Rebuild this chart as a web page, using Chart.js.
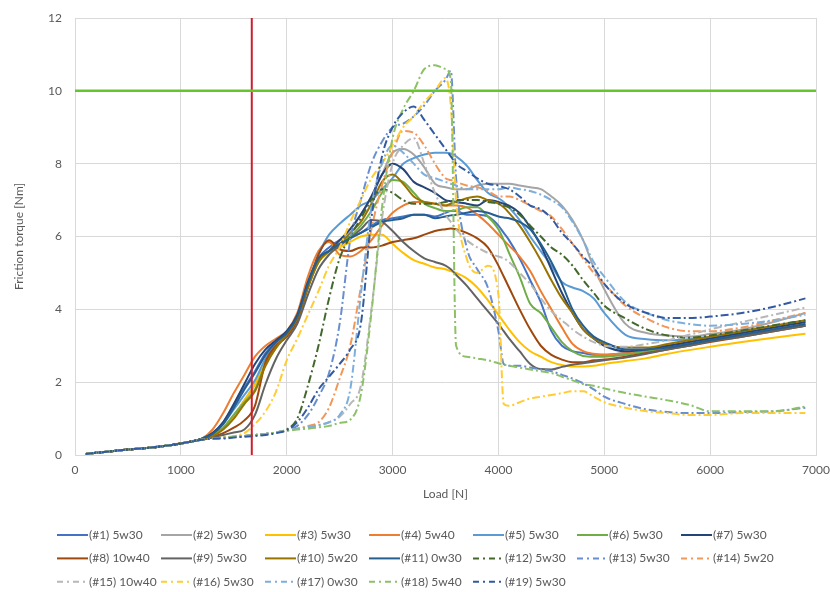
<!DOCTYPE html>
<html><head><meta charset="utf-8">
<script src="https://cdn.jsdelivr.net/npm/chart.js@4/dist/chart.umd.min.js"></script>
<style>html,body{margin:0;padding:0;background:#fff;}#wrap{width:830px;height:592px;position:relative;}</style>
</head><body><div id="wrap"><canvas id="c" width="830" height="592"></canvas></div>
<script>
// Load grid [N]
const load = [100,300,500,700,900,1100,1200,1300,1400,1500,1600,1700,1800,1900,2000,2100,2200,2300,2400,2500,2600,2700,2800,2900,3000,3100,3200,3300,3400,3500,3550,3600,3700,3800,3900,4000,4050,4100,4200,4300,4400,4500,4600,4700,4800,4900,5000,5200,5400,5600,5800,6000,6300,6600,6900];
const base = [0.03,0.09,0.15,0.2,0.27,0.37];
// Friction torque [Nm] per series
const s1  = base.concat([0.45,0.6,0.9,1.35,1.85,2.3,2.8,3.1,3.35, 3.8,4.7,5.4,5.7,5.9,6.0,6.1,6.3,6.45, 6.5,6.55,6.6,6.6,6.55,6.65,6.7,6.7,6.6,6.6,6.55, 6.3,6.1,5.9,5.4,4.8,4.2,3.4,3.0,2.85,2.8,2.75, 2.75, 2.8,2.85,2.95,3.05,3.15,3.3,3.45,3.55]);
const s2  = base.concat([0.45,0.55,0.75,1.1,1.5,1.95,2.6,3.0,3.3, 3.7,4.6,5.3,5.6,5.9,6.2,6.6,7.1,7.7, 8.3,8.4,8.25,7.9,7.45,7.35,7.32,7.3,7.3,7.4,7.45, 7.45,7.45,7.45,7.4,7.35,7.3,7.1,6.85,6.45,5.9,5.15, 4.55, 3.6,3.35,3.28,3.25,3.32,3.45,3.65,3.9]);
const s3  = base.concat([0.45,0.55,0.75,1.05,1.5,1.95,2.55,2.95,3.3, 3.75,4.6,5.3,5.55,5.7,5.85,6.0,6.05,6.05, 5.8,5.55,5.35,5.25,5.15,5.1,5.05,5.0,4.85,4.6,4.25, 3.85,3.65,3.45,3.1,2.85,2.7,2.55,2.47,2.43,2.43,2.45, 2.5, 2.58,2.66,2.78,2.88,2.97,3.1,3.22,3.33]);
const s4  = base.concat([0.45,0.7,1.15,1.7,2.2,2.7,3.0,3.2,3.4, 3.9,4.9,5.6,5.85,5.5,5.45,5.6,5.9,6.3, 6.65,6.85,6.95,6.95,6.9,6.85,6.85,6.85,6.8,6.6,6.35, 6.05,5.9,5.75,5.45,5.05,4.5,4.0,3.5,3.05,2.85,2.78, 2.75, 2.8,2.9,3.0,3.1,3.2,3.35,3.5,3.65]);
const s5  = base.concat([0.45,0.6,0.85,1.25,1.65,2.05,2.65,3.05,3.35, 3.8,4.7,5.5,6.05,6.35,6.6,6.85,7.0,7.3, 7.6,8.0,8.15,8.25,8.3,8.3,8.28,8.2,7.95,7.55,7.2, 7.05,6.95,6.8,6.45,6.0,5.6,5.2,4.75,4.6,4.5,4.3, 3.9, 3.3,3.18,3.15,3.18,3.25,3.35,3.45,3.55]);
const s6  = base.concat([0.45,0.55,0.75,1.1,1.45,1.8,2.5,2.95,3.3, 3.75,4.6,5.3,5.6,5.8,6.0,6.3,6.7,7.2, 7.55,7.5,7.2,6.9,6.78,6.7,6.7,6.72,6.8,6.8,6.55, 6.2,5.9,5.55,4.9,4.15,3.9,3.5,3.1,2.85,2.72,2.7, 2.7, 2.75,2.85,2.95,3.05,3.15,3.3,3.45,3.6]);
const s7  = base.concat([0.45,0.6,0.9,1.4,1.95,2.5,2.9,3.15,3.4, 3.85,4.75,5.4,5.6,5.9,6.2,6.6,7.1,7.7, 8.0,7.85,7.5,7.35,7.2,7.0,6.97,6.95,6.9,6.85,7.0, 6.95,6.9,6.85,6.65,6.25,5.75,5.1,4.45,3.9,3.45,3.2, 3.0, 2.85,2.9,3.0,3.1,3.2,3.35,3.5,3.65]);
const s8  = base.concat([0.43,0.5,0.6,0.75,0.95,1.35,2.55,3.0,3.25, 3.7,4.6,5.5,5.9,5.65,5.6,5.7,5.7,5.75, 5.85,5.9,5.95,6.05,6.15,6.2,6.22,6.2,6.1,5.95,5.7, 5.2,4.9,4.6,4.0,3.45,3.0,2.75,2.62,2.55,2.55,2.6, 2.62, 2.7,2.8,2.9,3.0,3.1,3.25,3.4,3.55]);
const s9  = base.concat([0.42,0.48,0.55,0.62,0.7,1.1,1.95,2.65,3.15, 3.6,4.4,5.1,5.5,5.75,5.95,6.2,6.45,6.4, 6.15,5.85,5.6,5.4,5.3,5.2,5.1,4.95,4.65,4.3,3.95, 3.6,3.4,3.2,2.85,2.5,2.36,2.35,2.42,2.48,2.52,2.56, 2.6, 2.68,2.78,2.9,3.0,3.12,3.25,3.4,3.55]);
const s10 = base.concat([0.43,0.52,0.7,1.0,1.4,1.75,2.45,2.95,3.3, 3.75,4.6,5.3,5.6,5.8,6.1,6.4,6.9,7.5, 7.7,7.45,7.1,6.95,6.9,6.85,6.9,6.95,7.05,7.1,7.0, 6.9,6.8,6.65,6.3,5.85,5.35,4.8,4.3,3.9,3.45,3.2, 3.05, 2.95,2.95,3.05,3.15,3.25,3.4,3.55,3.7]);
const s11 = base.concat([0.45,0.58,0.85,1.3,1.8,2.25,2.75,3.1,3.35, 3.8,4.7,5.4,5.6,5.8,5.95,6.1,6.25,6.4, 6.45,6.5,6.6,6.6,6.5,6.55,6.58,6.6,6.65,6.7,6.65, 6.55,6.52,6.5,6.4,6.2,5.8,5.3,4.7,4.0,3.55,3.25, 3.1, 2.9,2.9,2.95,3.05,3.15,3.3,3.45,3.6]);
const s12 = base.concat([0.42,0.45,0.48,0.5,0.52,0.55,0.58,0.62,0.7, 1.0,1.9,3.0,4.3,5.4,6.0,6.5,7.0,7.3, 7.2,7.0,6.9,6.9,6.9,6.95,6.97,7.0,7.0,7.0,6.95, 6.9,6.85,6.8,6.6,6.3,6.0,5.7,5.5,5.2,4.8,4.45, 4.1, 3.75,3.45,3.28,3.22,3.28,3.42,3.56,3.7]);
const s13 = base.concat([0.42,0.45,0.47,0.5,0.52,0.55,0.58,0.62,0.68, 0.8,1.1,1.6,2.25,3.6,5.9,7.0,8.0,8.6, 9.0,9.1,9.3,9.6,10.0,10.3,10.55,7.6,5.7,5.1,4.6, 3.4,2.5,2.45,2.45,2.4,2.35,2.3,2.2,2.1,1.97,1.8, 1.6, 1.4,1.25,1.18,1.15,1.15,1.18,1.2,1.3]);
const s14 = base.concat([0.42,0.45,0.47,0.5,0.52,0.55,0.58,0.62,0.68, 0.72,0.8,0.9,1.3,2.1,3.0,4.6,6.2,7.4, 8.3,8.9,8.85,8.5,8.0,7.6,7.55,7.5,7.4,7.35,7.25, 7.1,7.1,7.1,7.0,6.85,6.7,6.55,6.2,5.8,5.4,5.0, 4.7, 4.1,3.75,3.5,3.4,3.4,3.5,3.7,3.9]);
const s15 = base.concat([0.42,0.45,0.47,0.5,0.52,0.55,0.58,0.62,0.68, 0.72,0.76,0.82,0.9,1.05,1.4,1.9,4.0,6.5, 8.0,8.5,8.7,8.0,7.2,6.6,6.4,6.2,5.9,5.7,5.55, 5.45,5.4,5.3,5.0,4.7,4.3,3.95,3.7,3.45,3.25,3.1, 3.0, 2.97,3.05,3.15,3.3,3.45,3.65,3.85,4.05]);
const s16 = base.concat([0.42,0.45,0.48,0.52,0.6,0.85,1.2,1.75,2.6, 3.2,3.85,4.5,5.2,5.7,6.4,7.0,7.6,8.0, 8.5,9.0,9.3,9.7,10.0,10.35,9.6,7.0,5.4,5.0,5.2, 4.4,1.4,1.35,1.45,1.55,1.6,1.65,1.7,1.75,1.75,1.6, 1.45, 1.3,1.2,1.15,1.1,1.1,1.15,1.15,1.15]);
const s17 = base.concat([0.42,0.45,0.47,0.5,0.52,0.55,0.58,0.62,0.68, 0.72,0.76,0.82,0.9,1.1,1.8,4.4,6.8,8.0, 8.5,8.3,8.0,7.7,7.6,7.5,7.45,7.4,7.3,7.3,7.3, 7.3,7.32,7.35,7.3,7.25,7.15,7.0,6.8,6.4,5.9,5.3, 4.9, 4.2,3.9,3.7,3.6,3.55,3.6,3.7,3.85]);
const s18 = base.concat([0.42,0.45,0.47,0.5,0.52,0.55,0.58,0.62,0.66, 0.7,0.72,0.76,0.8,0.88,0.97,1.65,3.9,6.8, 8.7,9.5,10.0,10.6,10.7,10.6,10.3,3.0,2.7,2.65,2.6, 2.52,2.48,2.45,2.4,2.35,2.3,2.25,2.15,2.05,1.95,1.9, 1.83, 1.7,1.6,1.5,1.38,1.2,1.2,1.2,1.33]);
const s19 = base.concat([0.42,0.45,0.45,0.48,0.5,0.52,0.55,0.6,0.68, 0.9,1.3,1.8,2.15,2.5,2.9,3.6,6.5,8.2, 9.0,9.4,9.57,9.2,8.8,8.4,8.2,8.0,7.8,7.6,7.45, 7.4,7.35,7.3,7.1,6.85,6.75,6.5,6.1,5.8,5.45,5.15, 4.7, 4.15,3.9,3.76,3.76,3.8,3.9,4.07,4.3]);

const seriesValues = [s1,s2,s3,s4,s5,s6,s7,s8,s9,s10,s11,s12,s13,s14,s15,s16,s17,s18,s19];
const seriesNames = ['(#1) 5w30','(#2) 5w30','(#3) 5w30','(#4) 5w40','(#5) 5w30','(#6) 5w30','(#7) 5w30',
  '(#8) 10w40','(#9) 5w30','(#10) 5w20','(#11) 0w30','(#12) 5w30','(#13) 5w30','(#14) 5w20',
  '(#15) 10w40','(#16) 5w30','(#17) 0w30','(#18) 5w40','(#19) 5w30'];
const seriesColors = ['#4472C4','#A5A5A5','#FFC000','#ED7D31','#5B9BD5','#70AD47','#264478',
  '#9E480E','#636363','#997300','#255E91','#43682B','#698ED0','#F1975A',
  '#B7B7B7','#FFCD33','#7CAFDD','#8CC168','#335AA1'];
const seriesDashed = [false,false,false,false,false,false,false,false,false,false,false,true,true,true,true,true,true,true,true];
const limitLoad = 1670;   // vertical red line [N]
const limitTorque = 10;   // horizontal green line [Nm]
const xRange = [0, 7000], yRange = [0, 12];

const FONT = 'Lato, "Open Sans", "Liberation Sans", sans-serif';
const TXT = '#595959';
const DASH = [8,3,2,3];

const datasets = seriesValues.map((vals, i) => ({
  label: seriesNames[i],
  data: load.map((x, j) => ({x: x, y: vals[j]})),
  borderColor: seriesColors[i],
  backgroundColor: seriesColors[i],
  borderWidth: 2,
  borderDash: seriesDashed[i] ? DASH : [],
  pointRadius: 0,
  fill: false,
  cubicInterpolationMode: 'monotone',
  order: 100 - i,
  inLegend: true
}));
datasets.push({
  label: 'limitLoad', data: [{x: limitLoad, y: yRange[0]}, {x: limitLoad, y: yRange[1]}],
  borderColor: '#CC1F2D', borderWidth: 2, pointRadius: 0, fill: false, order: 1, inLegend: false
});
datasets.push({
  label: 'limitTorque', data: [{x: xRange[0], y: limitTorque}, {x: xRange[1], y: limitTorque}],
  borderColor: '#66C52B', borderWidth: 2.5, pointRadius: 0, fill: false, order: 0, inLegend: false
});

const legendPlugin = {
  id: 'gridLegend',
  afterDraw(chart) {
    const ctx = chart.ctx;
    ctx.save();
    ctx.font = '12px ' + FONT;
    ctx.textBaseline = 'middle';
    ctx.textAlign = 'left';
    let k = 0;
    chart.data.datasets.forEach(ds => {
      if (!ds.inLegend) return;
      const row = Math.floor(k / 7), col = k % 7;
      const x0 = 57 + col * 104, y = 535 + row * 23.4;
      ctx.beginPath();
      ctx.strokeStyle = ds.borderColor;
      ctx.lineWidth = 2;
      ctx.setLineDash(ds.borderDash && ds.borderDash.length ? [6,4,2,4] : []);
      ctx.moveTo(x0, y); ctx.lineTo(x0 + 31, y);
      ctx.stroke();
      ctx.setLineDash([]);
      ctx.fillStyle = TXT;
      ctx.fillText(ds.label, x0 + 32, y);
      k++;
    });
    ctx.restore();
  }
};

new Chart(document.getElementById('c'), {
  type: 'line',
  data: { datasets: datasets },
  options: {
    responsive: false,
    animation: false,
    devicePixelRatio: 1,
    layout: { padding: { left: 0, right: 14, top: 18, bottom: 87 } },
    plugins: { legend: { display: false }, tooltip: { enabled: false } },
    scales: {
      x: {
        type: 'linear', min: xRange[0], max: xRange[1],
        ticks: { stepSize: 1000, padding: 8, color: TXT, font: { family: FONT, size: 12 }, callback: v => String(v) },
        grid: { color: '#D9D9D9', lineWidth: 1, drawTicks: false },
        border: { display: true, color: '#D9D9D9' },
        title: { display: true, text: 'Load [N]', color: TXT, font: { family: FONT, size: 12 }, padding: { top: 0, bottom: 4 } },
        afterFit: s => { s.height = 50; s.paddingLeft = 0; s.paddingRight = 0; }
      },
      y: {
        type: 'linear', min: yRange[0], max: yRange[1],
        ticks: { stepSize: 2, padding: 13, color: TXT, font: { family: FONT, size: 12 }, callback: v => String(v) },
        grid: { color: '#D9D9D9', lineWidth: 1, drawTicks: false },
        border: { display: false },
        title: { display: true, text: 'Friction torque [Nm]', color: TXT, font: { family: FONT, size: 12 }, padding: { top: 12, bottom: 0 } },
        afterFit: s => { s.width = 75; s.paddingTop = 0; s.paddingBottom = 0; }
      }
    }
  },
  plugins: [legendPlugin]
});
</script>
</body></html>
